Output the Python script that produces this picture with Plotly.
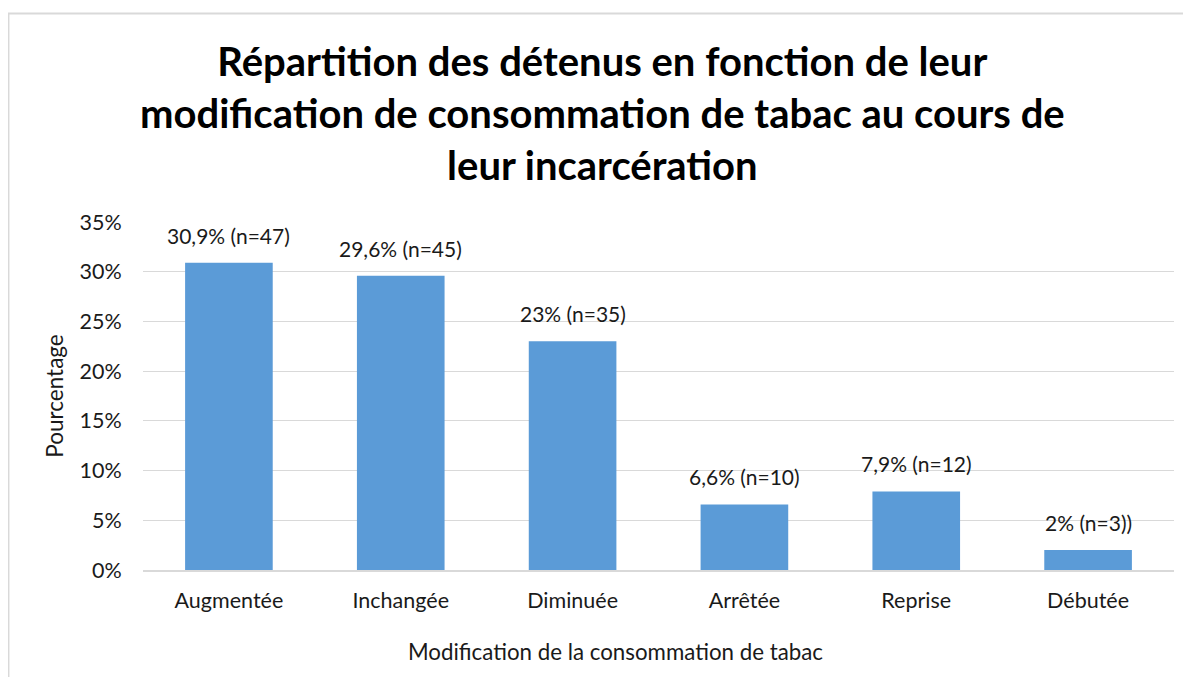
import plotly.graph_objects as go

categories = ["Augmentée", "Inchangée", "Diminuée", "Arrêtée", "Reprise", "Débutée"]
values = [30.9, 29.6, 23.0, 6.6, 7.9, 2.0]
labels = ["30,9% (n=47)", "29,6% (n=45)", "23% (n=35)", "6,6% (n=10)", "7,9% (n=12)", "2% (n=3))"]
y_ticks = [0, 5, 10, 15, 20, 25, 30, 35]
y_ticktext = ["0%", "5%", "10%", "15%", "20%", "25%", "30%", "35%"]

title_text = ("Répartition des détenus en fonction de leur<br>"
              "modification de consommation de tabac au cours de<br>"
              "leur incarcération")
x_title = "Modification de la consommation de tabac"
y_title = "Pourcentage"

FONT = "Lato"
TXT = "#1a1a1a"

fig = go.Figure()
fig.add_trace(go.Bar(
    x=categories, y=values,
    marker=dict(color="#5b9bd7", line=dict(width=0)),
    width=0.51,
    hoverinfo="skip",
))

for c, v, t in zip(categories, values, labels):
    fig.add_annotation(x=c, y=v, text=t, showarrow=False, yanchor="bottom",
                       yshift=13, font=dict(family=FONT, size=21, color=TXT))

fig.add_annotation(xref="paper", yref="paper", x=0.446, y=1.312,
                   xanchor="center", yanchor="middle", showarrow=False,
                   text=title_text,
                   font=dict(family=FONT, size=40, color="black", weight="bold"))

fig.add_annotation(xref="paper", yref="paper", x=0.458, y=-0.233,
                   xanchor="center", yanchor="middle", showarrow=False,
                   text=x_title, font=dict(family=FONT, size=22.3, color=TXT))

fig.update_layout(
    width=1191, height=677,
    paper_bgcolor="white", plot_bgcolor="white",
    margin=dict(l=135, r=25, t=214, b=115),
    showlegend=False,
    font=dict(family=FONT, color=TXT),
)
fig.update_xaxes(
    showgrid=False, showline=True, linecolor="#d9d9d9", linewidth=1.5,
    ticks="outside", ticklen=10, tickcolor="rgba(0,0,0,0)",
    tickfont=dict(family=FONT, size=21.5, color=TXT),
)
fig.update_yaxes(
    range=[0, 35], tickvals=y_ticks, ticktext=y_ticktext,
    showgrid=True, gridcolor="#d9d9d9", gridwidth=1.2, zeroline=False,
    ticks="outside", ticklen=16, tickcolor="rgba(0,0,0,0)",
    tickfont=dict(family=FONT, size=21.5, color=TXT),
    title=dict(text=y_title, font=dict(family=FONT, size=22.5, color=TXT), standoff=9),
)

fig.add_shape(type="rect", xref="paper", yref="paper",
              x0=-0.1305, x1=1.05, y0=-1.0, y1=1.599,
              line=dict(color="#d9d9d9", width=2), fillcolor="rgba(0,0,0,0)", layer="below")

fig.write_html("out.html")
